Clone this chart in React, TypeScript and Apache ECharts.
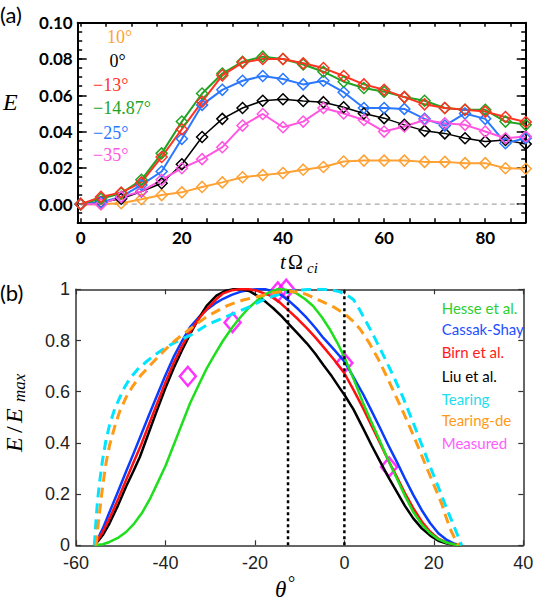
import React, { useEffect, useRef } from 'react';
import * as echarts from 'echarts';

// ---------- Panel (a): E vs t*Omega_ci ----------
const tOmega = [0, 4, 8, 12, 16, 20, 24, 28, 32, 36, 40, 44, 48, 52, 56, 60, 64, 68, 72, 76, 80, 84, 88];
const e10 = [0, 0, 0.0005, 0.0027, 0.005, 0.0065, 0.0095, 0.012, 0.0148, 0.016, 0.0172, 0.019, 0.0205, 0.0235, 0.024, 0.024, 0.024, 0.0233, 0.0233, 0.0226, 0.0226, 0.0198, 0.0195];
const e0 = [0, 0.001, 0.003, 0.007, 0.0115, 0.022, 0.037, 0.047, 0.053, 0.057, 0.0578, 0.0569, 0.0562, 0.0534, 0.05, 0.0474, 0.0437, 0.0404, 0.039, 0.0363, 0.0345, 0.0354, 0.0332];
const eM13 = [0, 0.004, 0.0064, 0.012, 0.026, 0.0413, 0.0565, 0.071, 0.078, 0.08, 0.08, 0.0776, 0.075, 0.0706, 0.066, 0.063, 0.059, 0.055, 0.053, 0.052, 0.051, 0.048, 0.0453];
const eM1487 = [0, 0.003, 0.006, 0.0134, 0.028, 0.0455, 0.061, 0.072, 0.0785, 0.0813, 0.08, 0.077, 0.073, 0.0675, 0.064, 0.062, 0.059, 0.057, 0.053, 0.052, 0.052, 0.0455, 0.0437];
const eM25 = [0, 0.001, 0.004, 0.0106, 0.018, 0.036, 0.0547, 0.063, 0.068, 0.0706, 0.069, 0.066, 0.068, 0.0617, 0.053, 0.053, 0.0525, 0.047, 0.0433, 0.05, 0.047, 0.0336, 0.0363];
const eM35 = [0, 0, 0.004, 0.007, 0.0134, 0.0198, 0.0248, 0.0314, 0.0433, 0.0497, 0.0424, 0.0455, 0.053, 0.05, 0.0464, 0.04, 0.0428, 0.0464, 0.0446, 0.0437, 0.04, 0.0363, 0.0373];
const labelsA = ['10°', '0°', '−13°', '−14.87°', '−25°', '−35°'];

// ---------- Panel (b): E/Emax vs theta ----------
const hesse: number[][] = [[-55.9, 0], [-54, 0.004], [-52.5, 0.013], [-50.5, 0.03], [-48.8, 0.052], [-47, 0.085], [-45.3, 0.125], [-43.5, 0.18], [-42, 0.235], [-40, 0.31], [-38.2, 0.39], [-36.3, 0.475], [-34.5, 0.555], [-32.6, 0.625], [-30.8, 0.69], [-29, 0.745], [-27.1, 0.8], [-25.2, 0.848], [-23.3, 0.89], [-21.4, 0.927], [-19.6, 0.955], [-17.7, 0.98], [-15.9, 0.995], [-14.9, 1.0], [-13, 0.998], [-10.7, 0.984], [-8.8, 0.962], [-7, 0.935], [-5.1, 0.893], [-3.3, 0.845], [-1.6, 0.792], [0, 0.735], [2.1, 0.648], [4.2, 0.555], [6.1, 0.48], [8, 0.405], [9.8, 0.332], [11.7, 0.262], [13.5, 0.195], [15.4, 0.13], [17.3, 0.082], [19.2, 0.047], [21, 0.024], [22.9, 0.01], [24.6, 0.003], [26.2, 0]];
const cassak: number[][] = [[-55.9, 0], [-55, 0.03], [-54, 0.066], [-52.5, 0.13], [-50.6, 0.21], [-48.8, 0.288], [-47.1, 0.36], [-45.4, 0.434], [-43.7, 0.508], [-42, 0.58], [-40.1, 0.66], [-38.2, 0.735], [-36.3, 0.798], [-34.5, 0.852], [-32.6, 0.89], [-30.8, 0.92], [-28.9, 0.945], [-27.1, 0.963], [-25.2, 0.978], [-23.3, 0.99], [-21.4, 0.997], [-19.6, 1.0], [-17.7, 1.0], [-15.9, 0.992], [-14, 0.976], [-12.2, 0.952], [-10.3, 0.922], [-8.4, 0.888], [-6.5, 0.85], [-4.7, 0.81], [-2.3, 0.764], [0, 0.718], [2.1, 0.655], [4.2, 0.59], [6.1, 0.524], [8, 0.457], [9.8, 0.392], [11.7, 0.327], [13.5, 0.262], [15.4, 0.197], [17.3, 0.137], [19.2, 0.086], [21, 0.047], [22.9, 0.021], [24.6, 0.006], [26.2, 0]];
const birn: number[][] = [[-55.9, 0], [-55, 0.024], [-54, 0.053], [-52.5, 0.105], [-50.6, 0.18], [-48.8, 0.255], [-47.1, 0.325], [-45.4, 0.395], [-43.7, 0.472], [-42, 0.548], [-40.1, 0.632], [-38.2, 0.711], [-36.3, 0.778], [-34.5, 0.834], [-32.6, 0.884], [-30.8, 0.922], [-28.9, 0.957], [-27.1, 0.984], [-25.2, 0.996], [-23.3, 1.0], [-21.4, 1.0], [-19.6, 0.995], [-16.6, 0.975], [-14.4, 0.948], [-12.2, 0.913], [-10.3, 0.882], [-8.4, 0.848], [-6.5, 0.812], [-4.7, 0.775], [-2.3, 0.725], [0, 0.672], [2.1, 0.605], [4.2, 0.535], [6.1, 0.466], [8, 0.398], [9.8, 0.332], [11.7, 0.268], [13.5, 0.205], [15.4, 0.145], [17.3, 0.093], [19.2, 0.053], [21, 0.026], [22.9, 0.01], [24.6, 0.003], [26.2, 0]];
const liu: number[][] = [[-55.9, 0], [-55, 0.018], [-54, 0.04], [-52.5, 0.086], [-50.6, 0.156], [-48.8, 0.23], [-47.2, 0.288], [-45.7, 0.346], [-43.9, 0.432], [-42, 0.522], [-40.1, 0.61], [-38.2, 0.691], [-36.3, 0.762], [-34.5, 0.825], [-32.6, 0.885], [-30.8, 0.935], [-28.6, 0.975], [-26.7, 0.993], [-24.8, 1.0], [-23, 1.0], [-21.1, 0.992], [-18.9, 0.968], [-17.4, 0.948], [-15.9, 0.926], [-14, 0.894], [-12.2, 0.86], [-10.3, 0.825], [-8.4, 0.789], [-6.5, 0.748], [-4.7, 0.704], [-2.8, 0.66], [-1, 0.613], [0, 0.588], [2, 0.532], [4.2, 0.457], [6.1, 0.39], [8, 0.327], [9.8, 0.267], [11.7, 0.21], [13.5, 0.155], [15.4, 0.105], [17.3, 0.066], [19.2, 0.038], [21, 0.018], [22.9, 0.007], [24.6, 0.002], [26.2, 0]];
const tearing: number[][] = [[-55.9, 0], [-55.7, 0.05], [-55.5, 0.105], [-55.2, 0.17], [-54.8, 0.236], [-54.4, 0.29], [-54, 0.34], [-53.3, 0.41], [-52.5, 0.47], [-51.4, 0.53], [-50.3, 0.574], [-49.2, 0.615], [-48.1, 0.648], [-46.2, 0.688], [-44.3, 0.717], [-42.5, 0.742], [-40.6, 0.765], [-38.8, 0.784], [-37, 0.8], [-34.5, 0.82], [-32.6, 0.84], [-30.8, 0.86], [-28.1, 0.881], [-25.5, 0.9], [-23.3, 0.916], [-21.1, 0.932], [-19.2, 0.95], [-17.3, 0.965], [-15.4, 0.976], [-13.6, 0.985], [-11.7, 0.993], [-9.9, 0.997], [-7.3, 1.0], [-4.7, 1.0], [-2.8, 0.997], [-1, 0.99], [0.5, 0.978], [2, 0.96], [3.1, 0.93], [4.2, 0.895], [6.5, 0.82], [8.7, 0.743], [11, 0.66], [13.2, 0.574], [15.4, 0.478], [17.6, 0.379], [19.5, 0.293], [21.4, 0.21], [22.9, 0.142], [24.4, 0.079], [25.3, 0.04], [26.2, 0]];
const tearingDe: number[][] = [[-55.5, 0], [-55.2, 0.058], [-54.8, 0.118], [-54.4, 0.178], [-54, 0.236], [-53.3, 0.32], [-52.5, 0.39], [-51.4, 0.46], [-50.3, 0.52], [-48.8, 0.578], [-47.3, 0.622], [-45.5, 0.664], [-43.6, 0.7], [-41.8, 0.733], [-40, 0.765], [-38.1, 0.796], [-36.2, 0.823], [-34.5, 0.845], [-32.6, 0.87], [-30.8, 0.893], [-28.5, 0.915], [-26.3, 0.935], [-24.4, 0.948], [-22.6, 0.958], [-20.3, 0.968], [-18.1, 0.977], [-16, 0.986], [-14, 0.991], [-12, 0.992], [-10, 0.988], [-8.5, 0.98], [-7, 0.968], [-4.7, 0.95], [-2.3, 0.93], [0, 0.905], [1.8, 0.878], [3.5, 0.845], [5.5, 0.792], [7.5, 0.73], [9.4, 0.662], [11.3, 0.59], [13.2, 0.518], [15, 0.447], [16.7, 0.376], [18.4, 0.303], [20.1, 0.232], [21.8, 0.16], [22.7, 0.112], [23.6, 0.066], [24.6, 0.03], [25.5, 0]];
const measured: number[][] = [[-35, 0.66], [-25, 0.87], [-14.87, 0.99], [-13, 1.0], [0, 0.712], [10, 0.306]];
const dottedTheta = [-12.6, 0];
const legendB = ['Hesse et al.', 'Cassak-Shay', 'Birn et al.', 'Liu et al.', 'Tearing', 'Tearing-de', 'Measured'];

const isMult = (v: number, step: number) => Math.abs(v / step - Math.round(v / step)) < 1e-6;

const colA = { o: '#ffa133', k: '#000000', r: '#ff3322', g: '#22a322', b: '#2a78ff', m: '#ff55e0' };
const colB = { g: '#1ede1e', b: '#0a3cff', r: '#ff1010', k: '#000000', c: '#00e5ff', o: '#ff9a16', m: '#ff00ff' };

function buildOption() {
  const ticksA = (pos: string, show: boolean, len: number, step: number, axisLine: boolean, labels: boolean) => ({
    type: 'value', gridIndex: 0, position: pos,
    min: -0.6, max: 88, minInterval: step, maxInterval: step,
    axisLine: { show: axisLine, onZero: false, lineStyle: { color: '#000', width: 2 } },
    axisTick: { show, inside: true, length: len, lineStyle: { color: '#000', width: 1.5 } },
    axisLabel: labels ? {
      show: true, margin: 7, color: '#000', fontFamily: 'Lato', fontWeight: 'bold', fontSize: 17,
      formatter: (v: number) => (isMult(v, 20) ? String(Math.round(v)) : ''),
    } : { show: false },
    splitLine: { show: false },
  });
  const yA = (pos: string, len: number, step: number, axisLine: boolean, labels: boolean) => ({
    type: 'value', gridIndex: 0, position: pos,
    min: -0.01, max: 0.1, minInterval: step, maxInterval: step,
    axisLine: { show: axisLine, onZero: false, lineStyle: { color: '#000', width: 2 } },
    axisTick: { show: true, inside: true, length: len, lineStyle: { color: '#000', width: 1.5 } },
    axisLabel: labels ? {
      show: true, margin: 5, color: '#000', fontFamily: 'Lato', fontWeight: 'bold', fontSize: 17,
      formatter: (v: number) => (isMult(v, 0.02) ? v.toFixed(2) : ''),
    } : { show: false },
    splitLine: { show: false },
  });
  const xB = (pos: string, labels: boolean) => ({
    type: 'value', gridIndex: 1, position: pos, min: -60, max: 40, interval: 20,
    axisLine: { show: true, onZero: false, lineStyle: { color: '#333', width: 1.5 } },
    axisTick: { show: true, inside: true, length: 5, lineStyle: { color: '#333', width: 1.2 } },
    axisLabel: labels ? { show: true, margin: 9, color: '#222', fontFamily: 'Liberation Sans', fontSize: 18 } : { show: false },
    splitLine: { show: false },
  });
  const yB = (pos: string, labels: boolean) => ({
    type: 'value', gridIndex: 1, position: pos, min: 0, max: 1, interval: 0.2,
    axisLine: { show: true, onZero: false, lineStyle: { color: '#333', width: 1.5 } },
    axisTick: { show: true, inside: true, length: 5, lineStyle: { color: '#333', width: 1.2 } },
    axisLabel: labels ? {
      show: true, margin: 6, color: '#222', fontFamily: 'Liberation Sans', fontSize: 18,
      formatter: (v: number) => String(Math.round(v * 10) / 10),
    } : { show: false },
    splitLine: { show: false },
  });

  const lineA = (name: string, vals: number[], color: string, w: number) => ({
    name, type: 'line', xAxisIndex: 0, yAxisIndex: 0, silent: true,
    data: tOmega.map((t, i) => [t, vals[i]]),
    symbol: 'diamond', symbolSize: 11,
    itemStyle: { color: 'rgba(0,0,0,0)', borderColor: color, borderWidth: 1.5 },
    lineStyle: { color, width: w },
    clip: false,
  });
  const curveB = (name: string, data: number[][], color: string, dashed: boolean) => ({
    name, type: 'line', xAxisIndex: 2, yAxisIndex: 4, silent: true,
    data, showSymbol: false, symbol: 'none', smooth: false,
    lineStyle: { color, width: dashed ? 3 : 2.5, type: dashed ? [10, 6] : 'solid', join: 'round' },
    clip: true,
  });

  const serif = 'Liberation Serif';
  const legendAColors = [colA.o, colA.k, colA.r, colA.g, colA.b, colA.m];
  const legendAX = [107, 109.5, 93, 93, 93, 93];
  const legendAY = [36.7, 61, 85, 108.3, 132.7, 155];
  const legendBColors = ['#2fcf2f', '#1f4fff', '#ff1a1a', '#000000', '#1fdcee', '#ff9a16', '#ff5cff'];
  const legendBY = [307.7, 329.3, 351.7, 376, 399.3, 420, 442.7];

  const txt = (text: string, x: number, y: number, opts: any) => ({
    type: 'text', x, y, silent: true,
    style: { text, align: 'left', verticalAlign: 'middle', fill: '#000', ...opts },
  });

  const graphic: any[] = [
    txt('(a)', 0, 14, { fontFamily: 'Lato', fontSize: 22 }),
    txt('(b)', 0, 292, { fontFamily: 'Lato', fontSize: 22 }),
    txt('E', 3, 102, { fontFamily: serif, fontStyle: 'italic', fontSize: 24 }),
    txt('t', 280, 262, { fontFamily: serif, fontStyle: 'italic', fontSize: 21 }),
    txt('Ω', 288, 262, { fontFamily: serif, fontSize: 20 }),
    txt('ci', 307, 268, { fontFamily: serif, fontStyle: 'italic', fontSize: 15 }),
    txt('θ', 275, 589, { fontFamily: serif, fontStyle: 'italic', fontSize: 23 }),
    txt('°', 288, 583, { fontFamily: serif, fontSize: 18 }),
    {
      type: 'group', x: 14, y: 452, rotation: Math.PI / 2, silent: true,
      children: [
        txt('E', 0, 0, { fontFamily: serif, fontStyle: 'italic', fontSize: 24 }),
        txt('/', 19, 0, { fontFamily: serif, fontSize: 24 }),
        txt('E', 29, 0, { fontFamily: serif, fontStyle: 'italic', fontSize: 24 }),
        txt('max', 50, 5, { fontFamily: serif, fontStyle: 'italic', fontSize: 17 }),
      ],
    },
  ];
  labelsA.forEach((s, i) => graphic.push(txt(s, legendAX[i], legendAY[i], { fontFamily: serif, fontSize: 18, fill: legendAColors[i] })));
  legendB.forEach((s, i) => graphic.push(txt(s, 441.7, legendBY[i], { fontFamily: 'Lato', fontSize: 15, fill: legendBColors[i] })));

  return {
    animation: false,
    backgroundColor: '#ffffff',
    grid: [
      { left: 77.7, top: 22.7, width: 448, height: 199.6, containLabel: false, outerBoundsMode: 'none' },
      { left: 76, top: 289.3, width: 447.3, height: 256, containLabel: false, outerBoundsMode: 'none' },
    ],
    xAxis: [
      ticksA('bottom', true, 4, 5, true, true),
      ticksA('top', true, 4, 5, true, false),
      xB('bottom', true),
      xB('top', false),
    ],
    yAxis: [
      yA('left', 9, 0.02, true, true),
      yA('left', 4.5, 0.005, false, false),
      yA('right', 9, 0.02, true, false),
      yA('right', 4.5, 0.005, false, false),
      yB('left', true),
      yB('right', false),
    ],
    series: [
      {
        name: 'zero', type: 'line', xAxisIndex: 0, yAxisIndex: 0, silent: true,
        data: [[-0.6, 0], [88, 0]], symbol: 'none',
        lineStyle: { color: '#a8a8a8', width: 1.2, type: [5, 4] },
      },
      lineA('10°', e10, colA.o, 2),
      lineA('0°', e0, colA.k, 1.5),
      lineA('-25°', eM25, colA.b, 2),
      lineA('-35°', eM35, colA.m, 2),
      lineA('-14.87°', eM1487, colA.g, 2),
      lineA('-13°', eM13, colA.r, 2),

      curveB('Cassak-Shay', cassak, colB.b, false),
      curveB('Liu et al.', liu, colB.k, false),
      curveB('Birn et al.', birn, colB.r, false),
      curveB('Hesse et al.', hesse, colB.g, false),
      curveB('Tearing', tearing, colB.c, true),
      curveB('Tearing-de', tearingDe, colB.o, true),
      ...dottedTheta.map((th) => ({
        name: 'dotted' + th, type: 'line', xAxisIndex: 2, yAxisIndex: 4, silent: true,
        data: [[th, 0], [th, 1]], symbol: 'none',
        lineStyle: { color: '#000', width: 2.5, type: [3, 3] },
      })),
      {
        name: 'Measured', type: 'scatter', xAxisIndex: 2, yAxisIndex: 4, silent: true,
        data: measured, symbol: 'diamond', symbolSize: [16, 19], clip: false,
        itemStyle: { color: 'rgba(0,0,0,0)', borderColor: colB.m, borderWidth: 2.5 },
      },
    ],
    graphic,
  };
}

export default function App() {
  const ref = useRef<HTMLDivElement>(null);
  useEffect(() => {
    if (!ref.current) return;
    const chart = echarts.init(ref.current, null, { renderer: 'svg' });
    chart.setOption(buildOption() as any);
    return () => chart.dispose();
  }, []);
  return (
    <div
      ref={ref}
      style={{ position: 'absolute', left: 0, top: 0, width: 534, height: 600, background: '#fff' }}
    />
  );
}
